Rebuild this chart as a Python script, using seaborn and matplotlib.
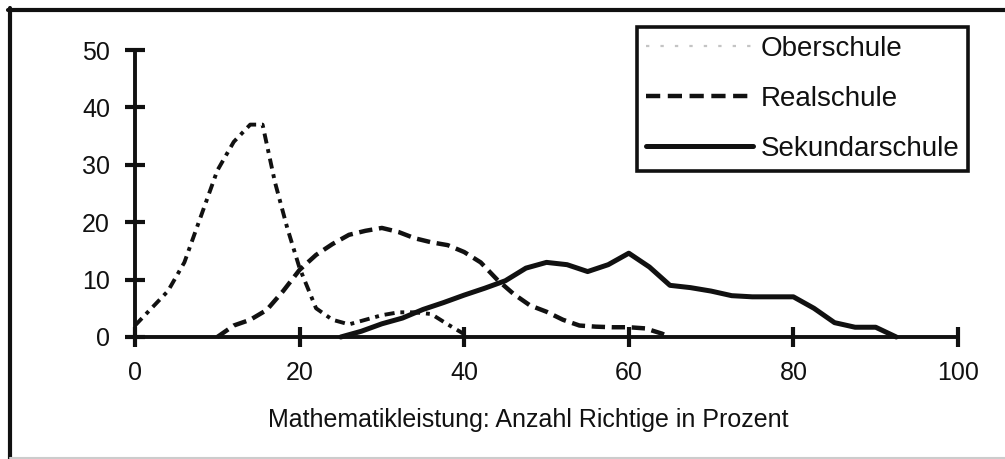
import numpy as np
import pandas as pd
import matplotlib
matplotlib.use("Agg")
import matplotlib.pyplot as plt
import seaborn as sns
from matplotlib.lines import Line2D

# ---- data ----
ober_x = [0, 2, 4, 6, 8, 10, 12, 14, 15.5, 17, 18.5, 20, 22, 24, 26, 28, 30, 32, 34, 36, 38, 40]
ober_y = [2, 5, 8, 13, 21, 29, 34, 37, 37, 27, 19, 12, 5, 3, 2.2, 3, 3.8, 4.3, 4.3, 4, 2.2, 0.5]

real_x = [10, 12, 14, 16, 18, 20, 22, 24, 26, 28, 30, 32, 34, 36, 38, 40, 42, 44, 46, 48, 50, 52, 54, 56, 58, 60, 62, 64, 65]
real_y = [0, 2, 3, 4.7, 8, 11.7, 14.3, 16.2, 17.8, 18.5, 19, 18.3, 17.2, 16.5, 16, 14.8, 13, 10, 7.5, 5.5, 4.4, 3, 2, 1.8, 1.7, 1.7, 1.5, 0.6, 0]

sek_x = [25, 27.5, 30, 32.5, 35, 37.5, 40, 42.5, 45, 47.5, 50, 52.5, 55, 57.5, 60, 62.5, 65, 67.5, 70, 72.5, 75, 77.5, 80, 82.5, 85, 87.5, 90, 92.5]
sek_y = [0, 1, 2.3, 3.3, 4.8, 6, 7.3, 8.5, 9.8, 12, 13, 12.6, 11.4, 12.6, 14.6, 12.2, 9, 8.6, 8, 7.2, 7, 7, 7, 5, 2.5, 1.7, 1.7, 0]

series_names = ["Oberschule", "Realschule", "Sekundarschule"]
x_ticks = [0, 20, 40, 60, 80, 100]
y_ticks = [0, 10, 20, 30, 40, 50]
x_label = "Mathematikleistung: Anzahl Richtige in Prozent"

df = pd.concat([
    pd.DataFrame({"x": ober_x, "y": ober_y, "Schule": series_names[0]}),
    pd.DataFrame({"x": real_x, "y": real_y, "Schule": series_names[1]}),
    pd.DataFrame({"x": sek_x, "y": sek_y, "Schule": series_names[2]}),
])

sns.set_style("white")
plt.rcParams["font.family"] = ["Liberation Sans", "DejaVu Sans"]

FS = 18
LFS = 20
INK = "#111111"

fig = plt.figure(figsize=(10.05, 4.59), dpi=100)
W, H = 1005, 459
ax = fig.add_axes([135 / W, (H - 337) / H, 823 / W, 287 / H])

dashes = {
    series_names[0]: (2.6, 1.5, 1, 1.5),
    series_names[1]: (3.0, 1.5),
    series_names[2]: "",
}
widths = {series_names[0]: 2.8, series_names[1]: 3.2, series_names[2]: 3.6}

sns.lineplot(data=df, x="x", y="y", hue="Schule", style="Schule",
             dashes=dashes, palette=[INK] * 3, sort=False,
             estimator=None, ax=ax, legend=False)
for line, name in zip(ax.get_lines(), series_names):
    line.set_linewidth(widths[name])
    line.set_clip_on(False)
    line.set_solid_joinstyle("round")
    line.set_dash_joinstyle("round")

ax.set_xlim(0, 100)
ax.set_ylim(0, 50)
ax.set_xticks(x_ticks)
ax.set_yticks(y_ticks)
ax.set_xlabel(x_label, fontsize=FS, color=INK)
ax.xaxis.set_label_coords((528 - 135) / 823, -(420 - 337) / 287)
ax.xaxis.label.set_va("center")
ax.set_ylabel("")
ax.patch.set_alpha(0)

for s in ["top", "right"]:
    ax.spines[s].set_visible(False)
for s in ["left", "bottom"]:
    ax.spines[s].set_linewidth(2.8)
    ax.spines[s].set_color(INK)
    ax.spines[s].set_capstyle("butt")
ax.tick_params(axis="both", bottom=True, left=True, direction="inout",
               length=14, width=3.0, color=INK, labelsize=FS, labelcolor=INK)
ax.tick_params(axis="y", pad=11)
ax.tick_params(axis="x", pad=10)

# legend
handles = [
    Line2D([], [], color="#c4c4c4", lw=1.6, linestyle=(0, (1.5, 5))),
    Line2D([], [], color=INK, lw=3.2, linestyle=(0, (3.2, 1.7))),
    Line2D([], [], color=INK, lw=3.6, linestyle="-"),
]
leg = ax.legend(handles, series_names, loc="upper left",
                bbox_to_anchor=((637 - 135) / 823, (337 - 27) / 287),
                frameon=True, fancybox=False, fontsize=LFS, framealpha=1,
                handlelength=3.85, handletextpad=0.28, labelspacing=0.86,
                borderpad=0.32, borderaxespad=0)
leg.get_frame().set_edgecolor(INK)
leg.get_frame().set_linewidth(2.6)
for t in leg.get_texts():
    t.set_color(INK)

# outer frame of the scanned figure
fig.add_artist(Line2D([9.5 / W, 9.5 / W], [0, (H - 8) / H], color=INK, lw=3, transform=fig.transFigure))
fig.add_artist(Line2D([8 / W, 1], [(H - 9.5) / H, (H - 9.5) / H], color=INK, lw=3, transform=fig.transFigure))
fig.add_artist(Line2D([9.5 / W, 1], [1.5 / H, 1.5 / H], color="#cccccc", lw=1.5, transform=fig.transFigure))

fig.savefig("out.png", dpi=100, facecolor="white")
